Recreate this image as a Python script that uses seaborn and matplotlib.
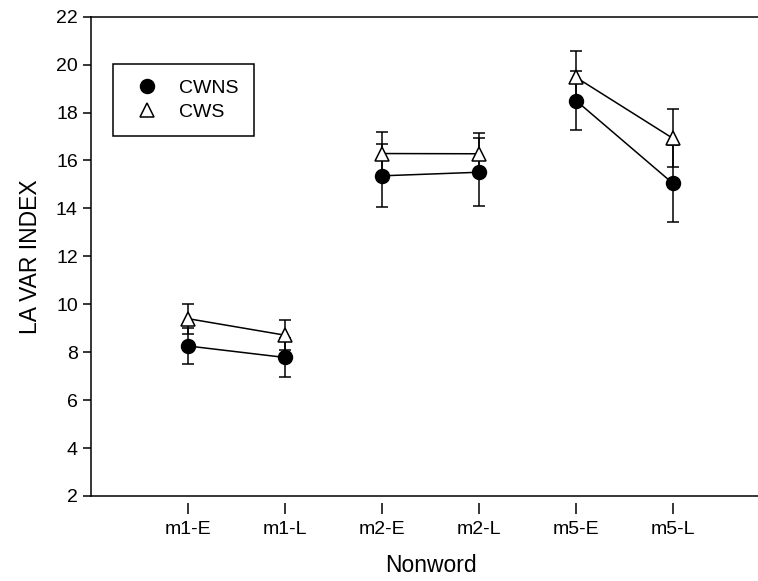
import numpy as np
import pandas as pd

import matplotlib
matplotlib.use('Agg')

import matplotlib.pyplot as plt
from matplotlib.lines import Line2D
import seaborn as sns

# values
nonwords = ['m1-E', 'm1-L', 'm2-E', 'm2-L', 'm5-E', 'm5-L']
pairs = ['m1', 'm1', 'm2', 'm2', 'm5', 'm5']
cwns_mean = [8.26, 7.78, 15.36, 15.51, 18.50, 15.04]
cwns_err = [0.76, 0.83, 1.32, 1.41, 1.22, 1.61]
cws_mean = [9.40, 8.71, 16.29, 16.28, 19.47, 16.92]
cws_err = [0.63, 0.62, 0.89, 0.87, 1.08, 1.21]
y_ticks = list(range(2, 23, 2))

sns.set_style('ticks')
plt.rcParams['font.family'] = ['Liberation Sans', 'DejaVu Sans']
plt.rcParams['text.color'] = 'black'
plt.rcParams['axes.labelcolor'] = 'black'
plt.rcParams['xtick.color'] = 'black'
plt.rcParams['ytick.color'] = 'black'

pos = np.arange(1, len(nonwords) + 1)
cwns = pd.DataFrame({'pos': pos, 'value': cwns_mean, 'pair': pairs})
cws = pd.DataFrame({'pos': pos, 'value': cws_mean, 'pair': pairs})

fig = plt.figure(figsize=(7.58, 5.81), dpi=100)
ax = fig.add_axes([91 / 758, 85 / 581, 667 / 758, 479.3 / 581])

lw = 1.1
# error bars underneath
ax.errorbar(pos, cwns_mean, yerr=cwns_err, fmt='none', ecolor='black',
            elinewidth=lw, capsize=4.5, capthick=lw, zorder=1)
ax.errorbar(pos, cws_mean, yerr=cws_err, fmt='none', ecolor='black',
            elinewidth=lw, capsize=4.5, capthick=lw, zorder=1)

# lines only join the early/late point of the same nonword
sns.lineplot(data=cwns, x='pos', y='value', units='pair', estimator=None,
             color='black', linewidth=lw, marker='o', markersize=10,
             markerfacecolor='black', markeredgecolor='black',
             markeredgewidth=lw, ax=ax, zorder=3)
sns.lineplot(data=cws, x='pos', y='value', units='pair', estimator=None,
             color='black', linewidth=lw, marker='^', markersize=10.5,
             markerfacecolor='white', markeredgecolor='black',
             markeredgewidth=lw, ax=ax, zorder=3)

ax.set_xlim(0, 667 / 97)
ax.set_ylim(2, 22)
ax.set_xticks(pos)
ax.set_xticklabels(nonwords)
ax.set_yticks(y_ticks)

# open frame: left + top, bottom line drawn separately so ticks sit below it
for side in ['left', 'top']:
    ax.spines[side].set_color('black')
    ax.spines[side].set_linewidth(lw)
ax.spines['right'].set_visible(False)
ax.spines['bottom'].set_position(('outward', 5))
ax.spines['bottom'].set_visible(False)
ax.axhline(2, color='black', linewidth=lw, clip_on=False, zorder=0)

ax.tick_params(axis='y', direction='out', length=6, width=lw, color='black',
               labelsize=14, pad=3.5)
ax.tick_params(axis='x', direction='out', length=8, width=lw, color='black',
               labelsize=14, pad=5)

ax.set_xlabel('Nonword', fontsize=16.5)
ax.set_ylabel('LA VAR INDEX', fontsize=16.5)
ax.xaxis.set_label_coords(0.51, -0.122)
ax.yaxis.set_label_coords(-0.0735, 0.5)

handles = [
    Line2D([], [], linestyle='none', marker='o', markersize=10,
           markerfacecolor='black', markeredgecolor='black', markeredgewidth=lw),
    Line2D([], [], linestyle='none', marker='^', markersize=10.5,
           markerfacecolor='white', markeredgecolor='black', markeredgewidth=lw),
]
leg = ax.legend(handles, ['CWNS', 'CWS'], loc='upper left',
                bbox_to_anchor=((113 - 91) / 667, (496 - 64) / 479.3),
                fontsize=14, frameon=True, fancybox=False, edgecolor='black',
                framealpha=1, borderpad=0.8, labelspacing=0.3,
                handlelength=1.9, handletextpad=0.7, borderaxespad=0)
leg.get_frame().set_linewidth(lw)

fig.savefig('out.png', dpi=100)
